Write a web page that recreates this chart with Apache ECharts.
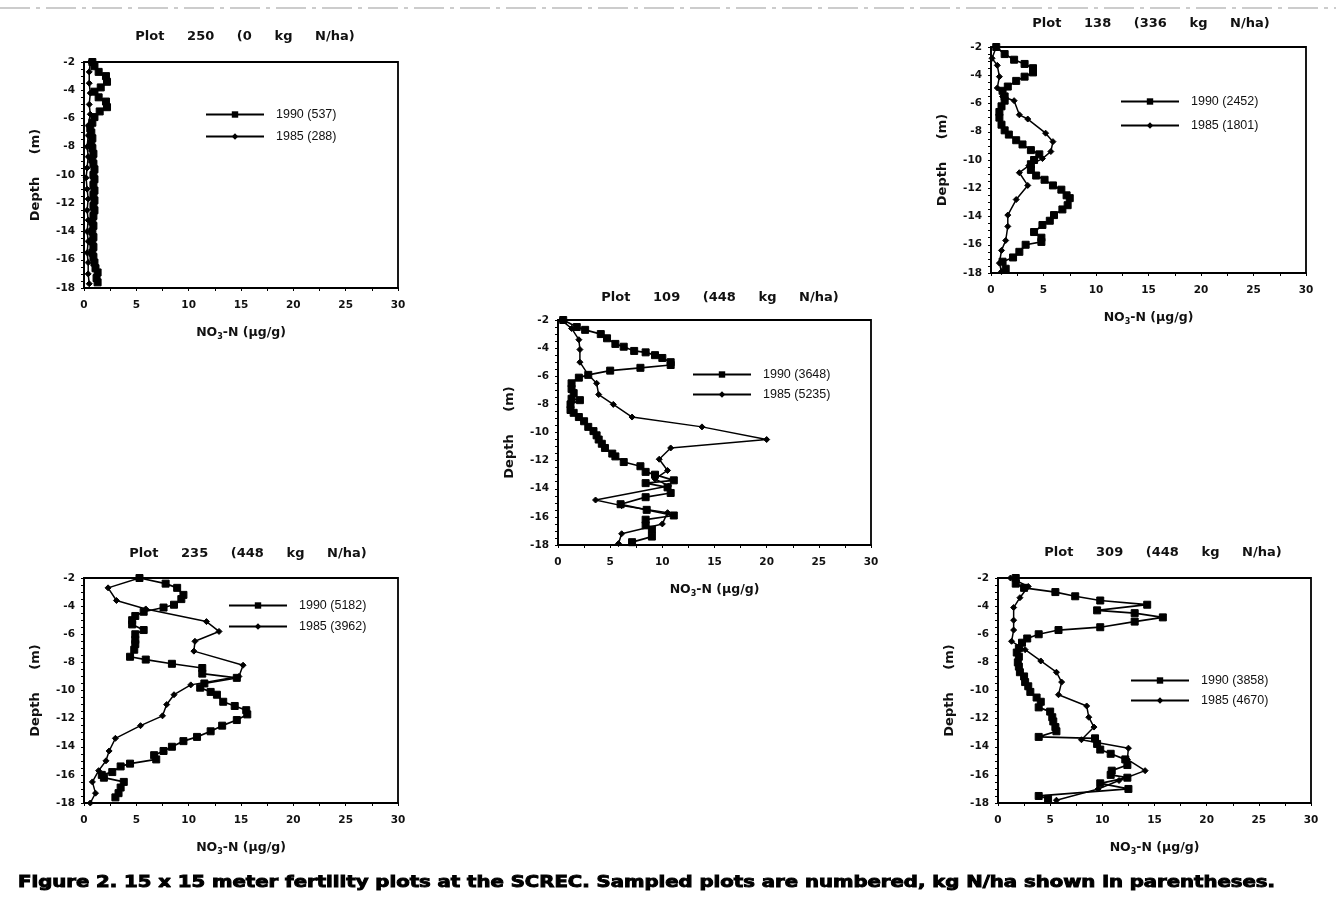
<!DOCTYPE html>
<html><head><meta charset="utf-8">
<script src="https://cdn.jsdelivr.net/npm/echarts@6/dist/echarts.min.js"></script>
<style>html,body{margin:0;padding:0;background:#fff}#c{width:1336px;height:914px}</style>
</head><body><div id="c"></div>
<script>
// ---- data: [NO3-N (ug/g), depth (m)] ----
const plotTitles = ["Plot     250     (0     kg     N/ha)", "Plot     138     (336     kg     N/ha)", "Plot     109     (448     kg     N/ha)", "Plot     235     (448     kg     N/ha)", "Plot     309     (448     kg     N/ha)"];
const names1990 = ["1990 (537)", "1990 (2452)", "1990 (3648)", "1990 (5182)", "1990 (3858)"];
const names1985 = ["1985 (288)", "1985 (1801)", "1985 (5235)", "1985 (3962)", "1985 (4670)"];
const xTicks = [0, 5, 10, 15, 20, 25, 30];
const yTicks = [-2, -4, -6, -8, -10, -12, -14, -16, -18];
const captionText = "Figure 2. 15 x 15 meter fertility plots at the SCREC. Sampled plots are numbered, kg N/ha shown in parentheses.";

const p250_1990 = [[0.8,-2.0],[1.0,-2.3],[1.4,-2.7],[2.1,-3.0],[2.2,-3.4],[1.6,-3.8],[1.0,-4.1],[1.4,-4.5],[2.1,-4.8],[2.2,-5.2],[1.5,-5.5],[1.0,-5.9],[0.8,-6.3],[0.6,-6.7],[0.7,-7.0],[0.8,-7.4],[0.7,-7.8],[0.8,-8.1],[0.9,-8.5],[0.8,-8.9],[0.9,-9.2],[1.0,-9.6],[0.9,-10.0],[1.0,-10.3],[0.9,-10.7],[1.0,-11.1],[0.9,-11.4],[1.0,-11.8],[0.9,-12.2],[1.0,-12.5],[0.9,-12.9],[0.8,-13.3],[0.9,-13.6],[0.8,-14.0],[0.9,-14.4],[0.8,-14.7],[0.9,-15.1],[0.8,-15.5],[0.9,-15.8],[1.0,-16.2],[1.1,-16.6],[1.3,-16.9],[1.2,-17.3],[1.3,-17.6]];
const p250_1985 = [[0.6,-2.0],[0.5,-2.7],[0.5,-3.5],[0.6,-4.2],[0.5,-5.0],[0.6,-5.7],[0.4,-6.5],[0.4,-7.2],[0.3,-8.0],[0.4,-8.7],[0.3,-9.5],[0.2,-10.2],[0.3,-11.0],[0.4,-11.7],[0.3,-12.5],[0.4,-13.2],[0.3,-14.0],[0.4,-14.7],[0.3,-15.5],[0.4,-16.2],[0.4,-17.0],[0.5,-17.7]];

const p138_1990 = [[0.5,-2.0],[1.3,-2.5],[2.2,-2.9],[3.2,-3.2],[4.0,-3.5],[4.0,-3.8],[3.2,-4.1],[2.4,-4.4],[1.6,-4.8],[1.1,-5.1],[1.3,-5.5],[1.3,-5.8],[1.0,-6.2],[0.8,-6.6],[0.8,-7.0],[1.0,-7.5],[1.3,-7.9],[1.7,-8.2],[2.4,-8.6],[3.0,-8.9],[3.8,-9.3],[4.6,-9.6],[4.1,-10.0],[3.8,-10.3],[3.8,-10.7],[4.3,-11.1],[5.1,-11.4],[5.9,-11.8],[6.7,-12.1],[7.2,-12.5],[7.5,-12.7],[7.3,-13.2],[6.8,-13.5],[6.0,-13.9],[5.6,-14.3],[4.9,-14.6],[4.1,-15.1],[4.8,-15.5],[4.8,-15.8],[3.3,-16.0],[2.7,-16.5],[2.1,-16.9],[1.1,-17.2],[1.4,-17.7]];
const p138_1985 = [[0.5,-2.0],[0.1,-2.8],[0.6,-3.3],[0.8,-4.1],[0.6,-4.9],[1.1,-5.5],[2.2,-5.8],[2.7,-6.8],[3.5,-7.1],[5.2,-8.1],[5.9,-8.7],[5.7,-9.4],[4.9,-9.9],[3.6,-10.4],[2.7,-10.9],[3.5,-11.8],[2.4,-12.8],[1.6,-13.9],[1.6,-14.7],[1.4,-15.7],[1.0,-16.4],[0.8,-17.3],[1.0,-17.9]];

const p109_1990 = [[0.5,-2.0],[1.8,-2.5],[2.6,-2.7],[4.1,-3.0],[4.7,-3.3],[5.5,-3.7],[6.3,-3.9],[7.3,-4.2],[8.4,-4.3],[9.3,-4.5],[10.0,-4.7],[10.8,-5.0],[10.8,-5.2],[7.9,-5.4],[5.0,-5.6],[2.9,-5.9],[2.0,-6.1],[1.3,-6.5],[1.3,-6.9],[1.5,-7.2],[1.3,-7.6],[2.1,-7.7],[1.2,-8.0],[1.2,-8.4],[1.5,-8.6],[2.0,-8.9],[2.5,-9.2],[2.9,-9.6],[3.4,-9.9],[3.7,-10.2],[3.9,-10.5],[4.2,-10.8],[4.5,-11.1],[5.2,-11.5],[5.5,-11.7],[6.3,-12.1],[7.9,-12.4],[8.4,-12.8],[9.3,-13.0],[11.1,-13.4],[8.4,-13.6],[10.5,-13.9],[10.8,-14.3],[8.4,-14.6],[6.0,-15.1],[8.5,-15.5],[11.1,-15.9],[8.4,-16.2],[8.4,-16.6],[9.0,-16.9],[9.0,-17.4],[7.1,-17.8]];
const p109_1985 = [[0.3,-2.0],[1.3,-2.6],[2.0,-3.4],[2.1,-4.1],[2.1,-5.0],[2.9,-5.9],[3.7,-6.5],[3.9,-7.3],[5.3,-8.0],[7.1,-8.9],[13.8,-9.6],[20.0,-10.5],[10.8,-11.1],[9.7,-11.9],[10.5,-12.7],[9.3,-13.3],[10.6,-13.8],[3.6,-14.8],[6.1,-15.2],[10.5,-15.7],[10.0,-16.5],[6.1,-17.2],[5.8,-17.9]];

const p235_1990 = [[5.3,-2.0],[7.8,-2.4],[8.9,-2.7],[9.5,-3.2],[9.3,-3.5],[8.6,-3.9],[7.6,-4.1],[5.7,-4.4],[4.9,-4.7],[4.6,-5.0],[4.6,-5.3],[5.7,-5.7],[4.9,-6.0],[4.9,-6.4],[4.9,-6.7],[4.8,-7.1],[4.4,-7.6],[5.9,-7.8],[8.4,-8.1],[11.3,-8.4],[11.3,-8.8],[14.6,-9.1],[11.5,-9.5],[11.1,-9.8],[12.1,-10.1],[12.7,-10.3],[13.3,-10.8],[14.4,-11.1],[15.5,-11.4],[15.6,-11.7],[14.6,-12.1],[13.2,-12.5],[12.1,-12.9],[10.8,-13.3],[9.5,-13.6],[8.4,-14.0],[7.6,-14.3],[6.7,-14.6],[6.9,-14.9],[4.4,-15.2],[3.5,-15.4],[2.7,-15.8],[1.7,-16.0],[1.9,-16.2],[3.8,-16.5],[3.5,-16.9],[3.3,-17.3],[3.0,-17.6]];
const p235_1985 = [[5.3,-2.0],[2.3,-2.7],[3.1,-3.6],[5.9,-4.2],[11.7,-5.1],[12.9,-5.8],[10.6,-6.5],[10.5,-7.2],[15.2,-8.2],[14.8,-9.0],[10.2,-9.6],[8.6,-10.3],[7.9,-11.0],[7.5,-11.8],[5.4,-12.5],[3.0,-13.4],[2.4,-14.3],[2.1,-15.0],[1.4,-15.7],[0.8,-16.5],[1.1,-17.3],[0.6,-18.0]];

const p309_1990 = [[1.7,-2.0],[1.7,-2.4],[2.5,-2.7],[5.5,-3.0],[7.4,-3.3],[9.8,-3.6],[14.3,-3.9],[9.5,-4.3],[13.1,-4.5],[15.8,-4.8],[13.1,-5.1],[9.8,-5.5],[5.8,-5.7],[3.9,-6.0],[2.8,-6.3],[2.3,-6.6],[2.0,-7.0],[1.8,-7.3],[2.0,-7.6],[1.9,-8.0],[2.0,-8.3],[2.1,-8.7],[2.5,-9.0],[2.6,-9.4],[2.9,-9.7],[3.1,-10.1],[3.7,-10.5],[4.1,-10.8],[3.9,-11.2],[5.0,-11.5],[5.2,-11.9],[5.3,-12.2],[5.5,-12.6],[5.6,-12.9],[3.9,-13.3],[9.3,-13.4],[9.5,-13.8],[9.8,-14.2],[10.8,-14.5],[12.2,-14.9],[12.4,-15.3],[10.9,-15.7],[10.8,-16.0],[12.4,-16.2],[9.8,-16.6],[12.5,-17.0],[3.9,-17.5],[4.8,-17.7]];
const p309_1985 = [[1.2,-2.0],[2.9,-2.6],[2.1,-3.4],[1.5,-4.1],[1.5,-5.0],[1.5,-5.7],[1.3,-6.5],[2.6,-7.1],[4.1,-7.9],[5.6,-8.7],[6.1,-9.4],[5.8,-10.3],[8.5,-11.1],[8.7,-11.9],[9.2,-12.6],[8.0,-13.5],[12.5,-14.1],[12.4,-14.9],[14.1,-15.7],[11.6,-16.4],[9.6,-17.0],[5.6,-17.8]];

const data1990 = [p250_1990, p138_1990, p109_1990, p235_1990, p309_1990];
const data1985 = [p250_1985, p138_1985, p109_1985, p235_1985, p309_1985];

// ---- layout ----
const grids = [
  {left: 84, top: 62, width: 314, height: 226},
  {left: 991, top: 47, width: 315, height: 226},
  {left: 558, top: 320, width: 313, height: 225},
  {left: 84, top: 578, width: 314, height: 225},
  {left: 998, top: 578, width: 313, height: 225}
];
const titlePos = [[240, 25], [1146, 12], [715, 286], [243, 542], [1158, 541]];
const legendPos = [[200, 103, 9], [1115, 90, 11], [687, 363, 7], [223, 594, 8], [1125, 669, 7]];

const FONT = '"DejaVu Sans", "Liberation Sans", Arial, sans-serif';
const LFONT = '"Liberation Sans", Arial, sans-serif';

// caption width fitting
const CAP_FONT = 'bold 15px "DejaVu Sans"';
const mctx = document.createElement('canvas').getContext('2d');
mctx.font = CAP_FONT;
const capScale = 1257 / mctx.measureText(captionText).width;

const option = {
  backgroundColor: '#fff',
  animation: false,
  title: plotTitles.map((t, i) => ({
    text: t, left: titlePos[i][0], top: titlePos[i][1], textAlign: 'center',
    textStyle: {fontFamily: FONT, fontWeight: 'bold', fontSize: 13, color: '#111'}
  })),
  legend: legendPos.map((p, i) => ({
    data: [names1990[i], names1985[i]], orient: 'vertical', left: p[0], top: p[1],
    itemWidth: 58, itemHeight: 8, itemGap: p[2], selectedMode: false,
    textStyle: {fontFamily: LFONT, fontSize: 12.5, color: '#111', padding: [0, 0, 0, 7]}
  })),
  grid: grids.map(g => Object.assign({show: true, borderColor: '#000', borderWidth: 1.8, backgroundColor: 'transparent'}, g)),
  xAxis: grids.map((g, i) => ({
    gridIndex: i, type: 'value', min: xTicks[0], max: xTicks[xTicks.length - 1], interval: 5,
    name: '{n|NO}{s|3}{n|-N (μg/g)}', nameLocation: 'middle', nameGap: 37,
    nameTextStyle: {rich: {n: {fontFamily: FONT, fontWeight: 'bold', fontSize: 12.5, color: '#111'}, s: {fontFamily: FONT, fontWeight: 'bold', fontSize: 8, color: '#111', verticalAlign: 'bottom', padding: [8, 0, 0, 0]}}},
    axisLine: {show: true, onZero: false, lineStyle: {color: '#000', width: 1.8}},
    axisTick: {show: true, inside: false, length: 3, lineStyle: {color: '#000'}},
    minorTick: {show: true, splitNumber: 2, length: 3, lineStyle: {color: '#000'}},
    splitLine: {show: false},
    axisLabel: {fontFamily: FONT, fontWeight: 'bold', fontSize: 10.5, color: '#111', margin: 12}
  })),
  yAxis: grids.map((g, i) => ({
    gridIndex: i, type: 'value', min: yTicks[yTicks.length - 1], max: yTicks[0], interval: 2,
    name: 'Depth     (m)', nameLocation: 'middle', nameGap: 42, nameRotate: 90,
    nameTextStyle: {fontFamily: FONT, fontWeight: 'bold', fontSize: 13, color: '#111'},
    axisLine: {show: true, onZero: false, lineStyle: {color: '#000', width: 1.8}},
    axisTick: {show: true, length: 3, lineStyle: {color: '#000'}},
    minorTick: {show: true, splitNumber: 4, length: 3, lineStyle: {color: '#000'}},
    splitLine: {show: false},
    axisLabel: {fontFamily: FONT, fontWeight: 'bold', fontSize: 10.5, color: '#111', margin: 9}
  })),
  series: [].concat(...grids.map((g, i) => [
    {name: names1990[i], type: 'line', xAxisIndex: i, yAxisIndex: i, data: data1990[i],
     symbol: 'rect', symbolSize: 7, showSymbol: true,
     lineStyle: {color: '#000', width: 1.7}, itemStyle: {color: '#000', borderColor: '#000'}},
    {name: names1985[i], type: 'line', xAxisIndex: i, yAxisIndex: i, data: data1985[i],
     symbol: 'diamond', symbolSize: 6, showSymbol: true,
     lineStyle: {color: '#000', width: 1.5}, itemStyle: {color: '#000', borderColor: '#000'}}
  ])),
  graphic: [
    {type: 'line', shape: {x1: 0, y1: 8, x2: 1336, y2: 8}, style: {stroke: '#999', lineWidth: 1, lineDash: [30, 6, 4, 6]}},
    {type: 'text', x: 18, y: 876, scaleX: capScale, style: {text: captionText, font: CAP_FONT, fill: '#000', stroke: '#000', lineWidth: 0.9}}
  ]
};
const chart = echarts.init(document.getElementById('c'), null, {renderer: 'canvas'});
chart.setOption(option);
</script>
</body></html>
